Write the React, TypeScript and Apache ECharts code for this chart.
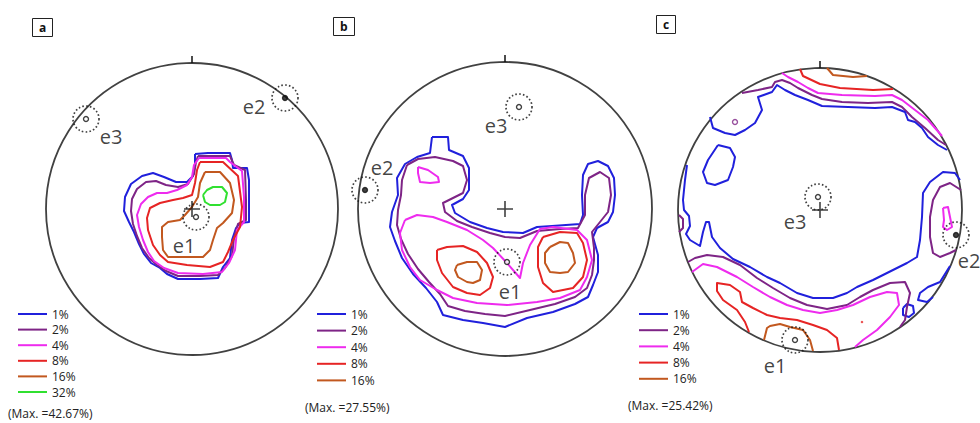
import React, { useEffect, useRef } from "react";
import * as echarts from "echarts";

type Pt = [number, number];

// Contour levels and their colours
const levelNames = ["1%", "2%", "4%", "8%", "16%", "32%"];
const levelColors = ["#2020dc", "#7e2486", "#ee2bee", "#e62424", "#c2581f", "#30e030"];
const maxTexts = ["(Max. =42.67%)", "(Max. =27.55%)", "(Max. =25.42%)"];
const panelLetters = ["a", "b", "c"];

// Coordinates: offsets from the net centre (x right, y down), in net units (radius = R)
// ---------------- panel a ----------------
const a1: Pt[] = [[3,-55],[16,-56],[38,-56],[40,-49],[41,-41],[55,-41],[57,-29],[57,-9],[57,13],[48,14],[44,19],[40,31],[38,49],[31,58],[26,69],[8,70],[-14,70],[-25,65],[-32,59],[-41,54],[-48,45],[-53,35],[-58,23],[-63,13],[-68,2],[-67,-12],[-61,-25],[-50,-33],[-39,-36],[-28,-32],[-16,-27],[-5,-27],[1,-33],[3,-44]];
const a2: Pt[] = [[6,-53],[38,-53],[42,-44],[53,-39],[54,-9],[54,11],[46,15],[42,29],[40,47],[33,59],[26,66],[8,67],[-14,67],[-26,62],[-35,56],[-43,49],[-50,39],[-55,27],[-59,15],[-61,2],[-60,-10],[-55,-20],[-46,-27],[-36,-28],[-26,-24],[-14,-22],[-4,-25],[2,-35],[4,-47]];
const a4: Pt[] = [[7,-51],[34,-51],[38,-47],[50,-38],[52,-12],[52,13],[45,21],[43,41],[37,54],[30,63],[11,65],[-14,64],[-28,59],[-38,52],[-44,43],[-49,31],[-53,18],[-55,6],[-51,-5],[-44,-12],[-35,-16],[-25,-16],[-15,-19],[-5,-24],[0,-32],[2,-44]];
const a8: Pt[] = [[8,-47],[31,-47],[46,-33],[50,-2],[48,18],[41,31],[36,43],[31,53],[18,58],[-5,56],[-24,53],[-32,46],[-39,36],[-44,21],[-45,9],[-42,-1],[-32,-6],[-19,-9],[-9,-11],[0,-14],[3,-26],[5,-39]];
const a16: Pt[] = [[13,-37],[28,-37],[38,-26],[42,-9],[40,4],[31,14],[25,19],[21,31],[18,41],[11,48],[-5,48],[-24,48],[-29,41],[-30,28],[-30,18],[-24,13],[-12,11],[-7,6],[0,-2],[6,-12],[8,-26]];
const a32: Pt[] = [[11,-14],[15,-19],[21,-22],[30,-22],[35,-16],[33,-7],[28,-4],[18,-4],[13,-7]];
const aEigen: Pt[] = [[4, 8], [93, -111], [-106, -90]];
const aLabels: Pt[] = [[-8, 36], [62, -103], [-81, -73]];

// ---------------- panel b ----------------
const b1: Pt[] = [[-73,-72],[-57,-72],[-56,-59],[-42,-53],[-36,-41],[-36,-19],[-42,-10],[-53,-4],[-50,4],[-35,13],[-18,19],[-2,23],[18,24],[32,18],[47,17],[75,15],[78,6],[77,-14],[78,-34],[83,-45],[93,-48],[103,-43],[109,-31],[110,-14],[108,3],[103,13],[92,19],[88,28],[93,46],[93,63],[88,76],[83,88],[70,95],[48,103],[22,109],[0,118],[-22,114],[-42,111],[-62,106],[-68,93],[-79,79],[-92,65],[-103,49],[-110,32],[-115,18],[-113,3],[-107,-14],[-108,-31],[-100,-45],[-88,-52],[-75,-56]];
const b2: Pt[] = [[-98,-44],[-87,-50],[-70,-52],[-52,-48],[-42,-43],[-38,-29],[-42,-16],[-52,-11],[-62,-6],[-60,3],[-48,12],[-33,18],[-15,24],[0,28],[15,29],[32,22],[55,20],[73,19],[80,6],[80,-14],[84,-31],[95,-37],[104,-31],[106,-14],[103,3],[95,13],[87,23],[89,39],[89,51],[87,66],[82,79],[70,88],[50,95],[25,101],[0,107],[-20,105],[-40,102],[-57,97],[-65,85],[-76,73],[-87,60],[-97,45],[-104,30],[-108,16],[-107,1],[-104,-14],[-103,-29]];
const b4a: Pt[] = [[-87,-42],[-77,-39],[-67,-32],[-66,-27],[-75,-26],[-85,-27],[-87,-36]];
const b4b: Pt[] = [[-100,11],[-88,6],[-72,8],[-58,13],[-38,21],[-22,31],[-12,39],[2,54],[15,69],[18,54],[25,36],[35,20],[48,18],[72,21],[82,31],[87,51],[82,68],[75,81],[55,89],[32,93],[2,96],[-28,94],[-52,89],[-68,81],[-85,71],[-95,58],[-103,41],[-105,24]];
const b8a: Pt[] = [[-68,41],[-58,38],[-42,37],[-28,43],[-18,54],[-12,68],[-15,79],[-25,86],[-38,84],[-52,78],[-63,64],[-68,51]];
const b8b: Pt[] = [[38,28],[55,23],[72,24],[78,34],[82,51],[78,68],[68,79],[48,83],[38,74],[33,58],[33,38]];
const b16a: Pt[] = [[-48,56],[-38,53],[-28,53],[-23,61],[-25,71],[-32,74],[-38,73],[-47,68],[-50,61]];
const b16b: Pt[] = [[45,38],[55,33],[63,34],[68,44],[70,54],[63,63],[55,64],[45,63],[40,54],[40,44]];
const bEigen: Pt[] = [[2, 53], [-140, -19], [14, -102]];
const bLabels: Pt[] = [[5, 82], [-123, -42], [-9, -84]];

// ---------------- panel c ----------------
const c16top: Pt[] = [[7,-142],[13,-135],[33,-133],[47,-134]];
const c8top: Pt[] = [[-20,-141],[-17,-134],[0,-126],[20,-122],[53,-120],[73,-121]];
const c4top: Pt[] = [[-38,-137],[-32,-133],[-22,-128],[-12,-122],[-2,-117],[22,-115],[55,-114],[72,-115],[82,-110],[95,-100],[108,-90],[122,-74]];
const c2top: Pt[] = [[-78,-117],[-62,-120],[-48,-123],[-45,-128],[-38,-130],[-30,-127],[-22,-122],[-8,-115],[2,-111],[22,-108],[48,-107],[72,-108],[82,-103],[92,-93],[105,-82],[118,-70],[126,-65]];
const c1top: Pt[] = [[-110,-93],[-107,-82],[-95,-77],[-85,-75],[-75,-80],[-65,-87],[-58,-100],[-62,-113],[-48,-118],[-43,-125],[-35,-120],[-25,-115],[-12,-110],[2,-104],[28,-103],[55,-102],[72,-103],[85,-98],[88,-90],[95,-88],[102,-82],[108,-73],[118,-65],[127,-60]];
const c1island: Pt[] = [[-102,-65],[-90,-62],[-85,-53],[-87,-43],[-92,-30],[-105,-25],[-113,-27],[-117,-38],[-112,-50]];
const c1low: Pt[] = [[-133,-45],[-135,-30],[-137,-10],[-136,0],[-131,6],[-130,16],[-134,24],[-130,30],[-120,36],[-117,22],[-114,12],[-111,12],[-108,27],[-100,38],[-87,49],[-70,57],[-53,67],[-40,73],[-23,83],[-7,88],[13,88],[27,83],[37,77],[53,70],[73,60],[87,53],[97,47],[100,30],[102,7],[103,-17],[110,-28],[123,-38],[135,-37],[140,-30]];
const c1right: Pt[] = [[130,56],[120,72],[108,77],[100,83],[98,90],[107,92],[113,87]];
const c1small: Pt[] = [[83,98],[87,94],[93,96],[94,103],[89,107],[83,105]];
const c2low: Pt[] = [[-132,52],[-125,48],[-113,45],[-97,47],[-80,55],[-63,68],[-47,78],[-30,88],[-13,95],[7,99],[27,95],[40,87],[53,80],[70,73],[85,72],[90,83],[87,97],[85,110],[80,117]];
const c2right: Pt[] = [[141,-20],[130,-27],[120,-23],[113,-10],[110,7],[110,27],[113,43],[120,47],[130,43],[136,40]];
const c2left: Pt[] = [[-141,5],[-137,9],[-137,18],[-141,22]];
const c4low: Pt[] = [[-128,62],[-117,54],[-103,57],[-83,67],[-67,77],[-50,87],[-33,95],[-17,100],[0,103],[17,100],[33,95],[50,87],[67,82],[77,83],[79,95],[70,107],[57,120],[43,130],[35,137]];
const c4right: Pt[] = [[123,-2],[128,-3],[130,7],[132,17],[127,20],[123,17],[124,10]];
const c8low: Pt[] = [[-71,122],[-75,112],[-83,100],[-97,90],[-103,81],[-103,73],[-90,75],[-80,82],[-78,92],[-67,98],[-53,105],[-40,108],[-23,110],[-7,115],[7,120],[17,128],[19,140]];
const c16low: Pt[] = [[-56,130],[-53,118],[-50,116],[-40,114],[-30,117],[-17,120],[-10,130],[-7,141]];
const cEigen: Pt[] = [[-25, 130], [136, 25], [-2, -13]];
const cLabels: Pt[] = [[-45, 155], [149, 50], [-25, 11]];
const cPurpleDot: Pt[] = [[-85, -88]];
const cRedDot: Pt[] = [[42, 112]];

// ---------------- layout ----------------
const panels = [
  { left: 46, top: 63, r: 146 },
  { left: 358, top: 62, r: 147 },
  { left: 678, top: 68, r: 142 },
];
const FONT = "'Open Sans', 'DejaVu Sans', sans-serif";

function contour(level: number, pts: Pt[], gi: number, closed = true) {
  const color = levelColors[level];
  const data = closed ? [...pts, pts[0]] : pts;
  return {
    type: "line",
    name: levelNames[level],
    xAxisIndex: gi,
    yAxisIndex: gi,
    data,
    symbol: "none",
    clip: false,
    silent: true,
    animation: false,
    lineStyle: { color, width: 2, join: "round" },
    itemStyle: { color },
    z: 2,
  };
}

const PLUS =
  "path://M-0.8,-8 L0.8,-8 L0.8,-0.8 L8,-0.8 L8,0.8 L0.8,0.8 L0.8,8 L-0.8,8 L-0.8,0.8 L-8,0.8 L-8,-0.8 L-0.8,-0.8 Z";

function netSeries(gi: number, eigen: Pt[], labels: Pt[]) {
  const r = panels[gi].r;
  const base = { xAxisIndex: gi, yAxisIndex: gi, clip: false, silent: true, animation: false };
  return [
    {
      ...base, type: "scatter", data: [[0, 0]], symbol: "circle", symbolSize: 2 * r, z: 1,
      itemStyle: { color: "rgba(0,0,0,0)", borderColor: "#111", borderWidth: 1.8 },
    },
    {
      ...base, type: "line", data: [[0, -r], [0, -r - 7]], symbol: "none", z: 1,
      lineStyle: { color: "#111", width: 1.5 },
    },
    {
      ...base, type: "scatter", data: [[0, 0]], symbol: PLUS, symbolSize: 16, z: 4,
      itemStyle: { color: "#111" },
    },
    {
      ...base, type: "scatter", data: eigen, symbol: "circle", symbolSize: 26, z: 4,
      itemStyle: { color: "rgba(0,0,0,0)", borderColor: "#111", borderWidth: 1.7, borderType: [1.6, 2.2] },
    },
    {
      ...base, type: "scatter", symbol: "circle", symbolSize: 5, z: 5,
      data: eigen.map((p, i) => ({
        value: p,
        itemStyle: { color: i === 1 ? "#111" : "#fff", borderColor: "#111", borderWidth: 1.4 },
      })),
    },
    {
      ...base, type: "scatter", symbolSize: 0, z: 5,
      data: labels.map((p, i) => ({ value: p, name: "e" + (i + 1) })),
      label: {
        show: true, position: "inside", formatter: "{b}", fontSize: 20,
        fontFamily: FONT, color: "#111",
      },
    },
  ];
}

export default function App() {
  const ref = useRef<HTMLDivElement>(null);
  useEffect(() => {
    if (!ref.current) return;
    const chart = echarts.init(ref.current, undefined, { renderer: "svg" });

    const series: any[] = [
      contour(0, a1, 0), contour(1, a2, 0), contour(2, a4, 0), contour(3, a8, 0),
      contour(4, a16, 0), contour(5, a32, 0),
      contour(0, b1, 1), contour(1, b2, 1), contour(2, b4a, 1), contour(2, b4b, 1),
      contour(3, b8a, 1), contour(3, b8b, 1), contour(4, b16a, 1), contour(4, b16b, 1),
      contour(4, c16top, 2, false), contour(3, c8top, 2, false), contour(2, c4top, 2, false),
      contour(1, c2top, 2, false), contour(0, c1top, 2, false), contour(0, c1island, 2),
      contour(0, c1low, 2, false), contour(0, c1right, 2, false), contour(0, c1small, 2),
      contour(1, c2low, 2, false), contour(1, c2right, 2, false), contour(1, c2left, 2, false),
      contour(2, c4low, 2, false), contour(2, c4right, 2), contour(3, c8low, 2, false),
      contour(4, c16low, 2, false),
      {
        type: "scatter", xAxisIndex: 2, yAxisIndex: 2, data: cPurpleDot, symbolSize: 5, clip: false,
        silent: true, itemStyle: { color: "#fff", borderColor: levelColors[1], borderWidth: 1.4 }, z: 3,
      },
      {
        type: "scatter", xAxisIndex: 2, yAxisIndex: 2, data: cRedDot, symbolSize: 2.5, clip: false,
        silent: true, itemStyle: { color: levelColors[3] }, z: 3,
      },
      ...netSeries(0, aEigen, aLabels),
      ...netSeries(1, bEigen, bLabels),
      ...netSeries(2, cEigen, cLabels),
    ];

    const legendBase = {
      orient: "vertical", icon: "rect", itemWidth: 29, itemHeight: 2, padding: 0,
      selectedMode: false,
      textStyle: { fontSize: 12, color: "#222", fontFamily: FONT, lineHeight: 12 },
    };

    chart.setOption({
      animation: false,
      backgroundColor: "#ffffff",
      grid: panels.map((p) => ({ left: p.left, top: p.top, width: 2 * p.r, height: 2 * p.r })),
      xAxis: panels.map((p, i) => ({ gridIndex: i, type: "value", min: -p.r, max: p.r, show: false })),
      yAxis: panels.map((p, i) => ({
        gridIndex: i, type: "value", min: -p.r, max: p.r, inverse: true, show: false,
      })),
      legend: [
        { ...legendBase, data: levelNames, left: 18, top: 308, itemGap: 3.6 },
        { ...legendBase, data: levelNames.slice(0, 5), left: 317, top: 308, itemGap: 4.6 },
        { ...legendBase, data: levelNames.slice(0, 5), left: 639, top: 308, itemGap: 4.2 },
      ],
      title: [
        ...panelLetters.map((t, i) => ({
          text: t,
          left: [32, 333, 656][i],
          top: [18, 17, 15][i],
          padding: [3, 7, 3, 7],
          borderColor: "#222",
          borderWidth: 1,
          textStyle: { fontSize: 12, fontWeight: "bold", color: "#111", fontFamily: FONT, lineHeight: 13 },
        })),
        ...maxTexts.map((t, i) => ({
          text: t,
          left: [8, 305, 628][i],
          top: [407, 401, 399][i],
          padding: 0,
          textStyle: { fontSize: 12, fontWeight: "normal", color: "#222", fontFamily: FONT },
        })),
      ],
      series,
    });
    return () => chart.dispose();
  }, []);

  return (
    <div
      ref={ref}
      style={{ position: "fixed", left: 0, top: 0, width: 980, height: 423, background: "#fff" }}
    />
  );
}
